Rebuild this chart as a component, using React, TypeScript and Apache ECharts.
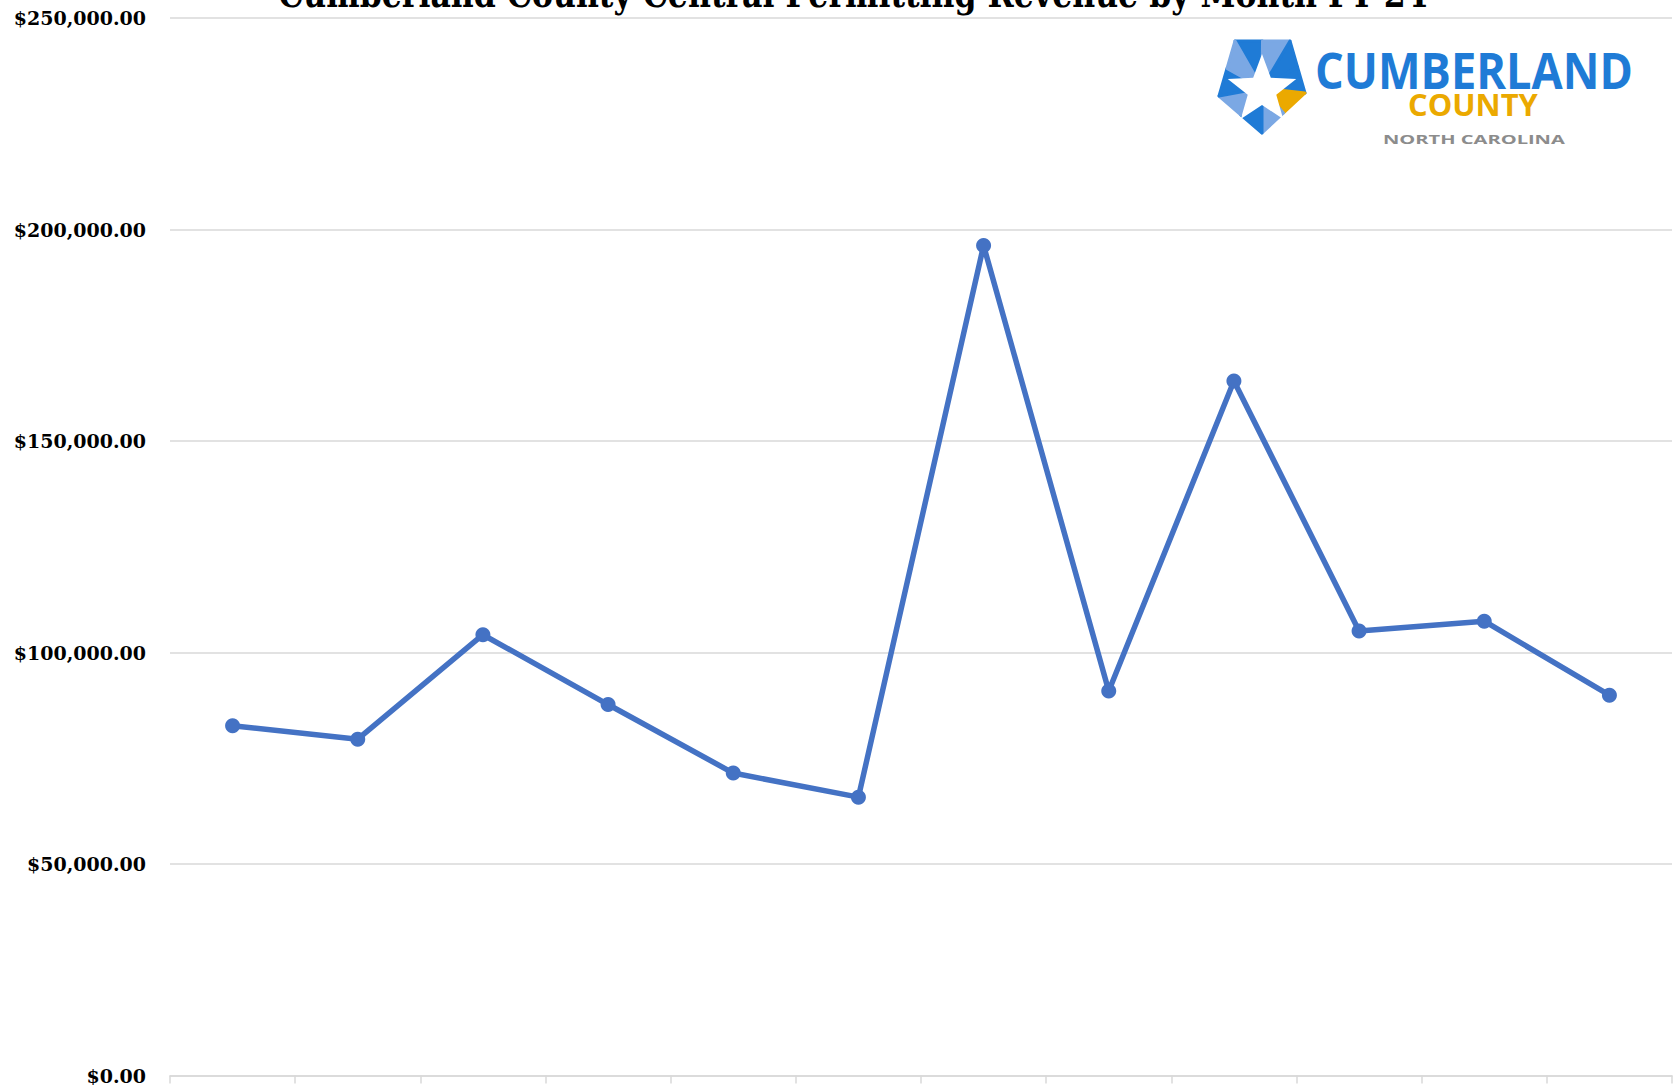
import React, { useEffect, useRef } from "react";
import * as echarts from "echarts";

const months = ["Jul", "Aug", "Sep", "Oct", "Nov", "Dec", "Jan", "Feb", "Mar", "Apr", "May", "Jun"];
const revenue = [82700, 79500, 104200, 87700, 71500, 65800, 196200, 90900, 164200, 105100, 107400, 89900];
const yTicks = [0, 50000, 100000, 150000, 200000, 250000];
const titleText = "Cumberland County Central Permitting Revenue by Month FY 24";

function measure(text: string, font: string): number {
  const c = document.createElement("canvas");
  const ctx = c.getContext("2d");
  if (!ctx) return 1;
  ctx.font = font;
  return ctx.measureText(text).width || 1;
}

function fitScale(text: string, size: number, family: string, weight: string, target: number): number {
  const w = measure(text, `${weight} ${size}px ${family}`);
  return target / w;
}

function buildLogo(): any[] {
  const cx = 1262, cy = 88;
  const P1 = [1235, 41], P2 = [1290, 41], P3 = [1305, 93], P4 = [1262, 133], P5 = [1219, 96];
  const mid = (a: number[], b: number[]) => [(a[0] + b[0]) / 2, (a[1] + b[1]) / 2];
  const C = [cx, cy];
  const M12 = mid(P1, P2), M23 = mid(P2, P3), M34 = mid(P3, P4), M45 = mid(P4, P5), M51 = mid(P5, P1);
  const dark = "#1F7BD6", light = "#7BA8E4", yellow = "#EBA900";
  const tris: [number[][], string][] = [
    [[C, P1, M12], dark],
    [[C, M12, P2], light],
    [[C, P2, M23], dark],
    [[C, M23, P3], dark],
    [[C, P3, M34], yellow],
    [[C, M34, P4], light],
    [[C, P4, M45], dark],
    [[C, M45, P5], light],
    [[C, P5, M51], dark],
    [[C, M51, P1], light],
  ];
  const els: any[] = tris.map(([pts, col]) => ({
    type: "polygon",
    shape: { points: pts },
    style: { fill: col, stroke: col, lineWidth: 3, lineJoin: "round" },
  }));
  const star: number[][] = [];
  const R = 36, r = 15;
  for (let i = 0; i < 10; i++) {
    const ang = -Math.PI / 2 + (i * Math.PI) / 5;
    const rad = i % 2 === 0 ? R : r;
    star.push([cx + rad * Math.cos(ang), cy + 2 + rad * Math.sin(ang)]);
  }
  els.push({ type: "polygon", shape: { points: star }, style: { fill: "#FFFFFF" } });

  const fam = '"Open Sans"';
  const s1 = fitScale("CUMBERLAND", 51, fam, "bold", 318);
  const s2 = fitScale("COUNTY", 31, fam, "bold", 130);
  const s3 = fitScale("NORTH CAROLINA", 13, fam, "bold", 182);
  els.push({
    type: "text", x: 1315, y: 69, scaleX: s1,
    style: { text: "CUMBERLAND", fill: "#1F7BD6", font: `bold 51px ${fam}`, align: "left", verticalAlign: "middle" },
  });
  els.push({
    type: "text", x: 1408, y: 104, scaleX: s2,
    style: { text: "COUNTY", fill: "#EBA900", font: `bold 31px ${fam}`, align: "left", verticalAlign: "middle" },
  });
  els.push({
    type: "text", x: 1383, y: 139.5, scaleX: s3,
    style: { text: "NORTH CAROLINA", fill: "#8C8C8C", font: `bold 13px ${fam}`, align: "left", verticalAlign: "middle" },
  });
  return els;
}

export default function App() {
  const ref = useRef<HTMLDivElement>(null);
  useEffect(() => {
    document.body.style.margin = "0";
    if (!ref.current) return;
    const chart = echarts.init(ref.current, null, { renderer: "svg" });
    const titleFam = '"DejaVu Serif"';
    const titleScale = fitScale(titleText, 37, titleFam, "bold", 1150);
    chart.setOption({
      animation: false,
      backgroundColor: "#FFFFFF",
      grid: { left: 170, right: 3, top: 18, bottom: 7, containLabel: false },
      xAxis: {
        type: "category",
        data: months,
        boundaryGap: true,
        axisLine: { show: true, lineStyle: { color: "#D9D9D9", width: 1.5 } },
        axisTick: { show: true, alignWithLabel: false, length: 8, lineStyle: { color: "#D9D9D9", width: 1.5 } },
        axisLabel: { show: false },
        splitLine: { show: false },
      },
      yAxis: {
        type: "value",
        min: yTicks[0],
        max: yTicks[yTicks.length - 1],
        interval: yTicks[1] - yTicks[0],
        axisLine: { show: false },
        axisTick: { show: false },
        splitLine: { show: true, lineStyle: { color: "#D9D9D9", width: 1.5 } },
        axisLabel: {
          margin: 24,
          color: "#000000",
          fontFamily: "DejaVu Serif",
          fontWeight: "bold",
          fontSize: 19,
          formatter: (v: number) =>
            "$" + v.toLocaleString("en-US", { minimumFractionDigits: 2, maximumFractionDigits: 2 }),
        },
      },
      series: [
        {
          type: "line",
          data: revenue,
          symbol: "circle",
          symbolSize: 15,
          lineStyle: { color: "#4472C4", width: 5.5 },
          itemStyle: { color: "#4472C4" },
        },
      ],
      graphic: [
        {
          type: "text",
          x: 853,
          y: -6,
          scaleX: titleScale,
          style: {
            text: titleText,
            fill: "#000000",
            font: `bold 37px ${titleFam}`,
            align: "center",
            verticalAlign: "middle",
          },
        },
        ...buildLogo(),
      ],
    });
    return () => chart.dispose();
  }, []);
  return (
    <div
      ref={ref}
      style={{ position: "absolute", left: 0, top: 0, width: 1675, height: 1085 }}
    />
  );
}
